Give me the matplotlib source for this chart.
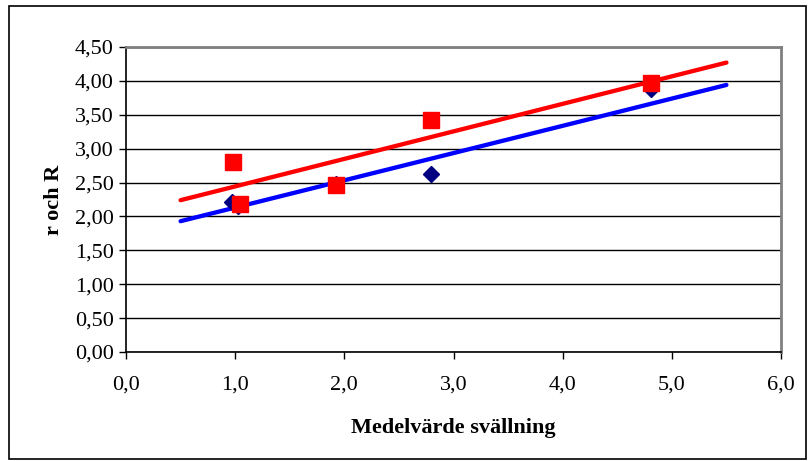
import numpy as np
import matplotlib.pyplot as plt
from matplotlib.ticker import FuncFormatter
from matplotlib.patches import Rectangle

# medelvärde svällning vs r and R
x_r = [0.97, 1.03, 1.92, 2.79, 4.81]
r_vals = [2.22, 2.15, 2.48, 2.62, 3.88]
x_R = [0.98, 1.04, 1.92, 2.79, 4.81]
R_vals = [2.81, 2.19, 2.47, 3.43, 3.97]

# trendline ends as drawn in the chart
trend_x = [0.5, 5.5]
r_trend = [1.93, 3.94]
R_trend = [2.24, 4.27]

plt.rcParams['font.family'] = ['Liberation Serif', 'DejaVu Serif']

fig = plt.figure(figsize=(8.08, 4.61), dpi=100)
ax = fig.add_axes((126/808, 1-352/461, (781-126)/808, (352-47)/461))

# outer chart border
fig.patches.append(Rectangle((9/808, 2/461), 797/808, 453/461, transform=fig.transFigure,
                             fill=False, edgecolor='black', linewidth=1.2))

ax.plot(trend_x, r_trend, color='#0000ff', lw=3.1, solid_capstyle='round', zorder=3)
ax.plot(trend_x, R_trend, color='#ff0000', lw=3.1, solid_capstyle='round', zorder=3)
ax.plot(x_r, r_vals, ls='none', marker='D', ms=8.5, color='#000080', zorder=4)
ax.plot(x_R, R_vals, ls='none', marker='s', ms=11, color='#ff0000', zorder=5)

ax.set_xlim(0, 6)
ax.set_ylim(0, 4.5)
ax.set_xticks(np.arange(0, 6.1, 1.0))
ax.set_yticks(np.arange(0, 4.51, 0.5))
ax.xaxis.set_major_formatter(FuncFormatter(lambda v, p: f'{v:.1f}'.replace('.', ',')))
ax.yaxis.set_major_formatter(FuncFormatter(lambda v, p: f'{v:.2f}'.replace('.', ',')))
ax.grid(axis='y', color='black', lw=1.0)
ax.set_axisbelow(True)

for s in ['top', 'right']:
    ax.spines[s].set_color('#808080')
    ax.spines[s].set_linewidth(2)
for s in ['left', 'bottom']:
    ax.spines[s].set_color('black')
    ax.spines[s].set_linewidth(1.2)

ax.tick_params(direction='out', length=5, width=1, labelsize=16, pad=4)
ax.tick_params(axis='x', pad=12)
ax.set_xlabel('Medelvärde svällning', fontsize=16, fontweight='bold', labelpad=17)
ax.set_ylabel('r och R', fontsize=16, fontweight='bold', labelpad=8)

fig.savefig('out.png', dpi=100)
